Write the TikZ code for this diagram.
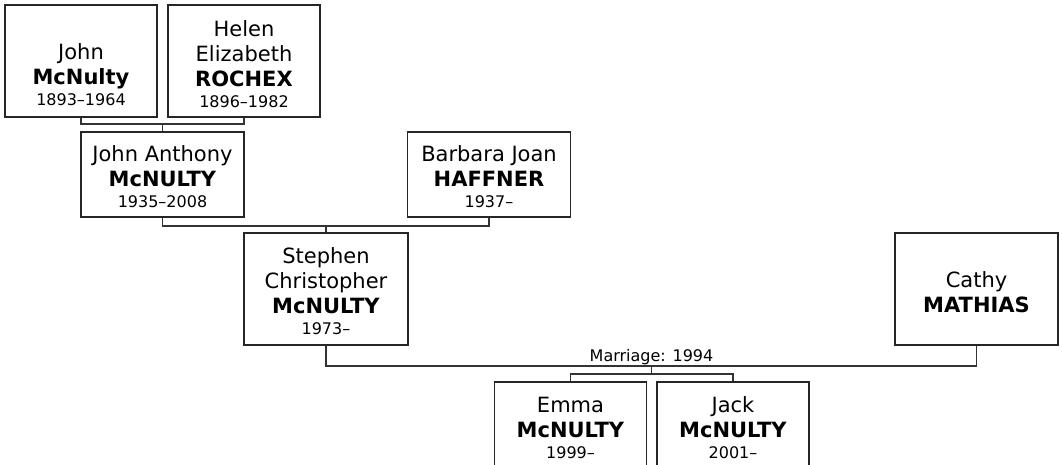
\documentclass[tikz,border=0pt]{standalone}
\usepackage{fontspec}
\setmainfont{DejaVu Sans}
\begin{document}
\begin{tikzpicture}[x=1pt,y=-1pt,
  person/.style={draw=black!85, line width=1.1pt, fill=white, inner sep=0pt},
  wide/.style={minimum width=152pt, minimum height=112pt},
  mid/.style={minimum width=163pt, minimum height=85pt},
  kid/.style={minimum width=152pt, minimum height=85pt},
  pname/.style={align=center, font=\fontsize{21}{25}\selectfont, inner sep=0pt},
  link/.style={draw=black!80, line width=1.15pt},
  mlabel/.style={font=\fontsize{16}{16}\selectfont, inner sep=0pt, anchor=base}
]
\useasboundingbox (0,0) rectangle (1062,464);
\clip (0,0) rectangle (1062,464);
% boxes
\node[person,wide] (j1) at (81,61) {};
\node[person,wide] (h1) at (244,61) {};
\node[person,mid] (ja) at (162.5,174.5) {};
\node[person,mid] (bj) at (489,174.5) {};
\node[person,minimum width=164pt,minimum height=112pt] (sc) at (326,289) {};
\node[person,minimum width=163pt,minimum height=112pt] (cm) at (976.5,289) {};
\node[person,kid] (em) at (570.5,424.5) {};
\node[person,kid] (jk) at (733,424.5) {};
% texts
\node[pname] (t1) at (81,75) {John\\\textbf{McNulty}\\[-4pt]{\fontsize{16}{16}\selectfont 1893–1964}};
\node[pname] (t2) at (244,63.7) {Helen\\Elizabeth\\\textbf{ROCHEX}\\[-4pt]{\fontsize{16}{16}\selectfont 1896–1982}};
\node[pname] (t3) at (162.5,176.7) {John Anthony\\\textbf{McNULTY}\\[-4pt]{\fontsize{16}{16}\selectfont 1935–2008}};
\node[pname] (t4) at (489,176.7) {Barbara Joan\\\textbf{HAFFNER}\\[-4pt]{\fontsize{16}{16}\selectfont 1937–}};
\node[pname] (t5) at (326,291.5) {Stephen\\Christopher\\\textbf{McNULTY}\\[-4pt]{\fontsize{16}{16}\selectfont 1973–}};
\node[pname] (t6) at (976.5,292) {Cathy\\\textbf{MATHIAS}};
\node[pname] (t7) at (570.5,428) {Emma\\\textbf{McNULTY}\\[-4pt]{\fontsize{16}{16}\selectfont 1999–}};
\node[pname] (t8) at (733,428) {Jack\\\textbf{McNULTY}\\[-4pt]{\fontsize{16}{16}\selectfont 2001–}};
% connectors
\coordinate (c1) at (162.5,124);
\draw[link] (j1.south) |- (c1) -| (h1.south);
\draw[link] (c1) -- (ja.north);
\coordinate (c2) at (326,226);
\draw[link] (ja.south) |- (c2) -| (bj.south);
\draw[link] (c2) -- (sc.north);
\coordinate (c3) at (651.5,366);
\draw[link] (sc.south) |- (c3) -| (cm.south);
\node[mlabel] (ml) at (651.5,361.5) {Marriage: 1994};
\coordinate (c4) at (651.5,374);
\draw[link] (c3) -- (c4);
\draw[link] (em.north) |- (c4) -| (jk.north);
\end{tikzpicture}
\end{document}
